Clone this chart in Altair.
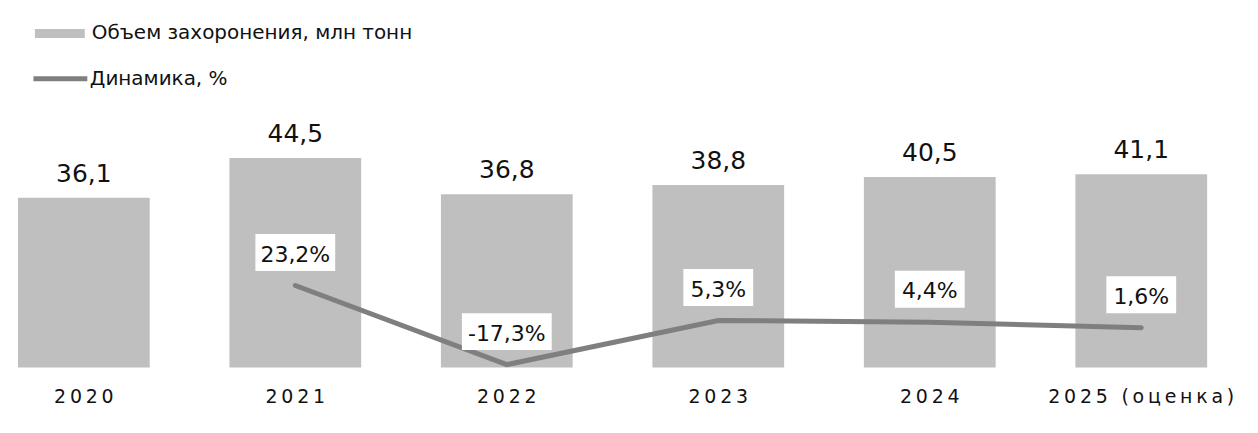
import altair as alt
import pandas as pd

years = ["2020", "2021", "2022", "2023", "2024", "2025 (оценка)"]
volume = [36.1, 44.5, 36.8, 38.8, 40.5, 41.1]
dynamics = [None, 23.2, -17.3, 5.3, 4.4, 1.6]

bar_name = "Объем захоронения, млн тонн"
line_name = "Динамика, %"

df = pd.DataFrame({
    "year": years,
    "volume": volume,
    "dyn": dynamics,
    "bar_series": bar_name,
    "line_series": line_name,
})

FONT = "DejaVu Sans"
TXT = "#111111"

x = alt.X(
    "year:N", sort=years,
    scale=alt.Scale(paddingInner=0.377, paddingOuter=0.047),
    axis=alt.Axis(title=None, domain=False, ticks=False, labelPadding=20,
                  labelFontSize=19, labelColor=TXT, labelFont=FONT, labelAngle=0,
                  labelLimit=400, labelOverlap=False,
                  labelExpr="join(split(datum.label, ''), '\u2009')"),
)

yb = alt.Y("volume:Q", scale=alt.Scale(domain=[0, 75.65], nice=False, zero=True), axis=None)
yl = alt.Y("dyn:Q", scale=alt.Scale(domain=[-18.85, 163.5], nice=False, zero=False), axis=None)

base = alt.Chart(df)

bars = base.mark_bar().encode(
    x=x, y=yb,
    color=alt.Color("bar_series:N",
                    scale=alt.Scale(domain=[bar_name], range=["#bfbfbf"]),
                    legend=alt.Legend(orient="none", legendX=27, legendY=-3, title=None,
                                      symbolType="M-1,-0.18L1,-0.18L1,0.18L-1,0.18Z",
                                      symbolSize=2500, symbolStrokeWidth=0,
                                      labelFontSize=20, labelFont=FONT, labelColor=TXT,
                                      labelOffset=7, labelLimit=600, padding=0)),
)

bar_text = base.transform_calculate(
    lbl="replace(format(datum.volume, '.1f'), '.', ',')"
).mark_text(dy=-16, baseline="alphabetic", fontSize=25, font=FONT, color=TXT).encode(
    x=x, y=yb, text="lbl:N"
)

lb = base.transform_filter("isValid(datum.dyn)")

line = lb.mark_line(strokeWidth=5, strokeCap="round").encode(
    x=x, y=yl,
    stroke=alt.Stroke("line_series:N",
                      scale=alt.Scale(domain=[line_name], range=["#7f7f7f"]),
                      legend=alt.Legend(orient="none", legendX=23, legendY=38, title=None,
                                        symbolType="stroke", symbolSize=2916,
                                        symbolStrokeWidth=5,
                                        labelFontSize=20, labelFont=FONT, labelColor=TXT,
                                        labelOffset=0, labelLimit=600, padding=0)),
)

LBL = "replace(replace(format(datum.dyn, '.1f'), '.', ','), '\u2212', '-') + '%'"
pct = lb.transform_calculate(lbl=LBL).transform_calculate(
    bw="pow(10 * length(datum.lbl) + 30, 2)",
)

boxes = pct.mark_point(shape="stroke", filled=False, stroke="white", strokeWidth=37,
                       opacity=1, yOffset=-33).encode(
    x=x, y=yl, size=alt.Size("bw:Q", scale=None, legend=None)
)

pct_text = pct.mark_text(dy=-24, baseline="alphabetic", fontSize=22, font=FONT, color=TXT).encode(
    x=x, y=yl, text="lbl:N"
)

chart = alt.layer(bars, bar_text, line, boxes, pct_text).resolve_scale(
    y="independent"
).properties(
    width=1212, height=357, padding={"left": 0, "top": 0, "right": 0, "bottom": 0}
).configure_view(stroke=None)

chart.save("out.html", embed_options={"renderer": "svg", "actions": False})
